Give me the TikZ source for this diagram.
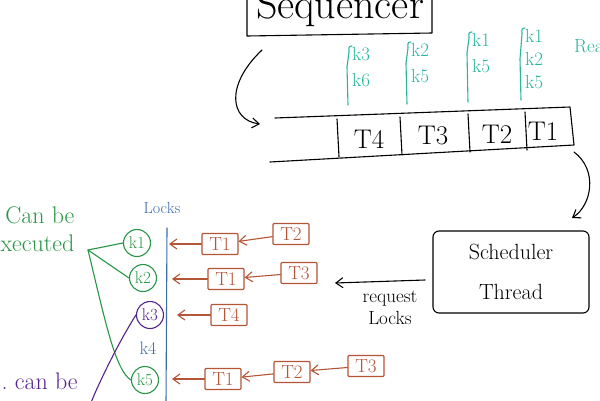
\documentclass[tikz,border=0pt]{standalone}
\usepackage{fontspec}
\usepackage{tikz}
\usetikzlibrary{arrows.meta,positioning}
\definecolor{keyteal}{RGB}{40,180,160}
\definecolor{taskred}{RGB}{180,85,55}
\definecolor{okgreen}{RGB}{40,150,70}
\definecolor{waitpurple}{RGB}{85,35,140}
\definecolor{lockblue}{RGB}{60,110,170}
\tikzset{
  hand/.style={line width=1.1pt, line cap=round, line join=round},
  task/.style={hand, draw=taskred, text=taskred, rounded corners=1pt, minimum width=36pt, minimum height=21pt, inner sep=1pt, font=\fontsize{19}{19}\selectfont},
  lock/.style={hand, draw, circle, minimum size=27pt, inner sep=0pt, text=lockblue, font=\fontsize{17}{17}\selectfont},
  keys/.style={text=keyteal, align=left, anchor=north west, inner xsep=6pt, inner ysep=1pt, font=\fontsize{19}{26}\selectfont},
  brace/.style={hand, draw=keyteal},
  big/.style={font=\fontsize{27}{27}\selectfont},
}
\begin{document}
\begin{tikzpicture}[x=1pt,y=-1pt, >={Straight Barb[length=7pt,width=10pt]}]
\clip (0,0) rectangle (600,400);
\fill[white] (0,0) rectangle (600,400);

% Sequencer
\draw[hand] (247,-10) -- (247,36) -- (432,33) -- (432,-10);
\node[font=\fontsize{42}{42}\selectfont] (seq) at (340,8) {Sequencer};
\coordinate (seqout) at (262,50);
\coordinate (qin) at (260,124);
\draw[hand,->] (seqout) .. controls (225,85) and (230,120) .. (qin);

% Queue
\draw[hand] (275,118) -- (570,107) -- (574,145) -- (270,162);
\foreach \x/\y in {337/119, 400/117, 468/114, 525/112}
  \draw[hand] (\x,\y) -- (\x+2,\y+38);
\node[big] (t4) at (369,139) {T4};
\node[big] (t3) at (433,136) {T3};
\node[big] (t2) at (497,134) {T2};
\node[big] (t1) at (543,131) {T1};

% Keys per task
\node[keys] (k4) at (346,46) {k3\\k6};
\node[keys] (k3) at (405,42) {k2\\k5};
\node[keys] (k2) at (466,32) {k1\\k5};
\node[keys, font=\fontsize{19}{23}\selectfont] (k1) at (519,28) {k1\\k2\\k5};
\foreach \k/\b in {k4/105, k3/104, k2/102, k1/100}
  \draw[brace] (\k.north west) ++(6,0) .. controls +(-4,0) and +(0,-4) .. +(-3,6)
    -- ([xshift=1pt]\k.west) -- ([xshift=2pt]\k.west|-0,\b);
\node[keys, anchor=west] (rea) at (568,48) {Ready};

% Scheduler
\coordinate (qout) at (574,152);
\node[hand, draw, rounded corners=6pt, minimum width=156pt, minimum height=82pt,
      align=center, font=\fontsize{22}{40}\selectfont] (sched) at (511,272) {Scheduler\\Thread};
\draw[hand,->] (qout) .. controls (598,170) and (592,205) .. (572,218);
\draw[hand,->] (425,280) -- (335,283);
\node[align=center, font=\fontsize{19}{22}\selectfont] (req) at (390,308) {request\\Locks};

% Locks
\node[text=lockblue, font=\fontsize{16}{16}\selectfont] (locks) at (162,208) {Locks};
\draw[hand, draw=lockblue] (167,228) -- (166,405);
\node[lock, okgreen] (l1) at (137,243) {k1};
\node[lock, okgreen] (l2) at (143,278) {k2};
\node[lock, waitpurple] (l3) at (150,315) {k3};
\node[text=lockblue, font=\fontsize{18}{18}\selectfont] (l4) at (148,348) {k4};
\node[lock, okgreen] (l5) at (145,380) {k5};
\node[lock, waitpurple] (l6) at (147,417) {k6};

% Task waits
\node[task] (r1a) at (220,244) {T1};
\node[task] (r1b) at (291,234) {T2};
\node[task] (r2a) at (226,279) {T1};
\node[task] (r2b) at (299,273) {T3};
\node[task] (r3a) at (229,315) {T4};
\node[task] (r4a) at (223,379) {T1};
\node[task] (r4b) at (292,372) {T2};
\node[task] (r4c) at (366,366) {T3};
\begin{scope}[hand, taskred, ->]
  \draw (r1a) -- (169,244);
  \draw (r1b) -- (r1a);
  \draw (r2a) -- (172,279);
  \draw (r2b) -- (r2a);
  \draw (r3a) -- (177,315);
  \draw (r4a) -- (172,379);
  \draw (r4b) -- (r4a);
  \draw (r4c) -- (r4b);
\end{scope}

% Can be executed
\node[okgreen, anchor=east, align=right, font=\fontsize{24}{28}\selectfont] (exe) at (78,229) {Can be\\executed};
\coordinate (exej) at (88,250);
\draw[hand, okgreen] (exej) -- (l1.west);
\draw[hand, okgreen] (exej) -- (l2.west);
\draw[hand, okgreen] (exej) .. controls (105,320) and (115,370) .. (l5.west);

% Can be blocked
\node[waitpurple, anchor=west, font=\fontsize{24}{24}\selectfont] (blk) at (-2,381) {.\ can be};
\draw[hand, waitpurple] (l3.west) .. controls (120,340) and (100,380) .. (90,405);
\end{tikzpicture}
\end{document}
